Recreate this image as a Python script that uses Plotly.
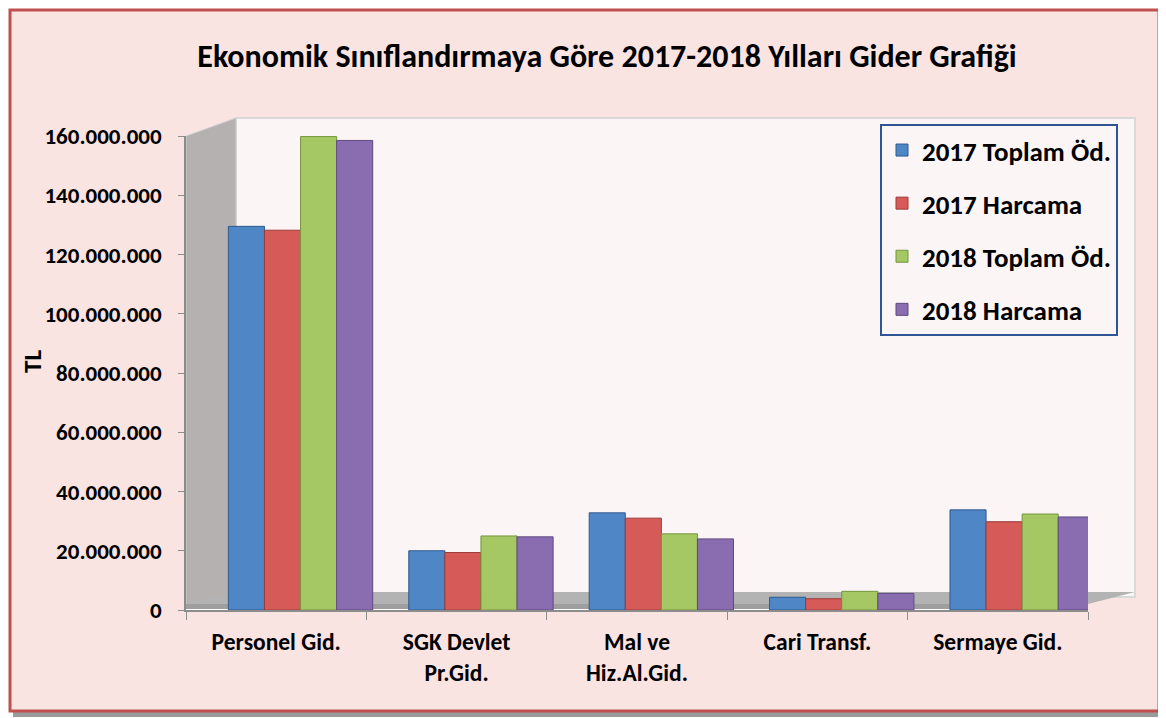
import plotly.graph_objects as go

categories = ["Personel Gid.", "SGK Devlet<br>Pr.Gid.", "Mal ve<br>Hiz.Al.Gid.", "Cari Transf.", "Sermaye Gid."]
series_names = ["2017 Toplam Öd.", "2017 Harcama", "2018 Toplam Öd.", "2018 Harcama"]
v2017_toplam = [129500000, 20000000, 32800000, 4300000, 33800000]
v2017_harcama = [128200000, 19400000, 31000000, 3800000, 29800000]
v2018_toplam = [159800000, 25000000, 25700000, 6300000, 32400000]
v2018_harcama = [158500000, 24700000, 24000000, 5600000, 31400000]
y_ticks = [0, 20000000, 40000000, 60000000, 80000000, 100000000, 120000000, 140000000, 160000000]

colors = ["#4F86C6", "#D65A58", "#A5C864", "#8A6DB0"]
edge = ["#2E5A8E", "#9C3A38", "#76953E", "#5F4A80"]

OFF = 8  # browser body margin
W, H = 1166 - OFF, 718 - OFF
def px(x):
    return (x - OFF) / W
def py(y):
    return 1 - (y - OFF) / H

FONT = "Carlito, 'Liberation Sans Narrow', 'DejaVu Sans Condensed', 'Open Sans', sans-serif"

BAR_W = 0.2
SHIFT = 0.135  # perspective shift of bars behind the category labels

fig = go.Figure()
series = [v2017_toplam, v2017_harcama, v2018_toplam, v2018_harcama]
for i, (name, vals, c, e) in enumerate(zip(series_names, series, colors, edge)):
    fig.add_trace(go.Bar(x=categories, y=vals, name=name, legendgroup=name,
                         width=BAR_W, offset=-0.4 + BAR_W * i + SHIFT,
                         marker=dict(color=c, line=dict(color=e, width=1))))

def path(pts):
    return "M " + " L ".join(f"{px(x):.5f},{py(y):.5f}" for x, y in pts) + " Z"

shapes = [
    dict(type="rect", xref="paper", yref="paper", x0=px(13), x1=px(1165), y0=py(717), y1=py(14),
         fillcolor="#9A9A9A", line=dict(width=0), layer="below"),
    dict(type="rect", xref="paper", yref="paper", x0=px(10), x1=px(1159), y0=py(711), y1=py(10),
         fillcolor="#F9E4E2", line=dict(color="#C0504D", width=3), layer="below"),
    dict(type="rect", xref="paper", yref="paper", x0=px(236), x1=px(1135), y0=py(597), y1=py(118),
         fillcolor="#FBF5F5", line=dict(color="#D9D9D9", width=2), layer="below"),
    dict(type="path", xref="paper", yref="paper", path=path([(186, 136), (236, 118), (236, 597), (186, 610)]),
         fillcolor="#B5B1B0", line=dict(color="#D0D0D0", width=1), layer="below"),
    dict(type="path", xref="paper", yref="paper", path=path([(186, 604), (236, 592), (1135, 592), (1088, 604)]),
         fillcolor="#B3B3B3", line=dict(width=0), layer="below"),
    dict(type="rect", xref="paper", yref="paper", x0=px(186), x1=px(1088), y0=py(610), y1=py(604),
         fillcolor="#9E9E9E", line=dict(width=0), layer="below"),
]

fig.update_layout(
    width=W, height=H,
    margin=dict(l=0, r=0, t=0, b=0),
    paper_bgcolor="white",
    plot_bgcolor="rgba(0,0,0,0)",
    separators=",.",
    font=dict(family=FONT, color="black"),
    barmode="group",
    shapes=shapes,
    title=dict(text="Ekonomik Sınıflandırmaya Göre 2017-2018 Yılları Gider Grafiği",
               x=px(607), y=py(56), xanchor="center", yanchor="middle", xref="paper", yref="paper",
               font=dict(size=32, family=FONT, color="black", weight="bold")),
    xaxis=dict(domain=[px(186), px(1088)], automargin=False, showgrid=False, range=[-0.5, 4.5],
               showline=True, linecolor="#8C8C8C", linewidth=1.5,
               ticks="outside", tickson="boundaries", ticklen=8, tickcolor="#8C8C8C",
               tickfont=dict(size=23.5, family=FONT, color="black", weight="bold"), ticklabelstandoff=10),
    yaxis=dict(domain=[py(610), py(136)], automargin=False, range=[0, 160000000],
               tickvals=y_ticks, tickformat=",d", showgrid=False,
               showline=True, linecolor="#8C8C8C", linewidth=1.5,
               ticks="outside", ticklen=6, tickcolor="#8C8C8C", ticklabelstandoff=12,
               tickfont=dict(size=23, family=FONT, color="black", weight="bold")),
    legend=dict(x=px(880), y=py(124), xanchor="left", yanchor="top",
                bgcolor="#FBF5F5", bordercolor="#2F5597", borderwidth=2,
                font=dict(size=27, family=FONT, color="black", weight="bold"),
                tracegroupgap=15, traceorder="grouped"),
    annotations=[dict(text="TL", x=px(32), y=py(362), xref="paper", yref="paper",
                      xanchor="center", yanchor="middle",
                      showarrow=False, textangle=-90,
                      font=dict(size=25, family=FONT, color="black", weight="bold"))],
)

fig.write_html("out.html")
